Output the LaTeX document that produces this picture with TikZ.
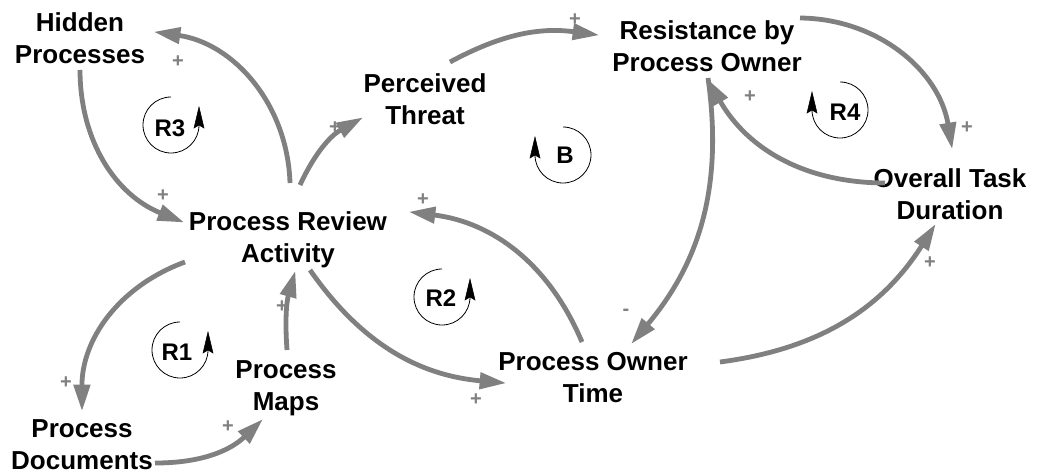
\documentclass[tikz,border=0pt]{standalone}
\usepackage{fontspec}
\setmainfont{Liberation Sans}
\usetikzlibrary{arrows.meta}
\definecolor{linkgray}{RGB}{128,128,128}
\tikzset{
  var/.style={font=\fontsize{19.5}{24}\selectfont\bfseries, align=center, inner sep=1pt},
  link/.style={draw=linkgray, line width=3.6pt, -{Triangle[length=20pt,width=12pt]}, shorten >=-1pt},
  pol/.style={text=linkgray, font=\fontsize{15}{15}\selectfont\bfseries, inner sep=0pt},
  loopc/.style={draw=black, line width=0.6pt},
  loophead/.style={fill=black, draw=black, line width=0.4pt, line join=miter},
  looplab/.style={font=\fontsize{18}{18}\selectfont\bfseries, inner sep=0pt}
}
\begin{document}
\begin{tikzpicture}[x=0.75pt,y=0.75pt]
\useasboundingbox (0,0) rectangle (1045,-475);
% variables
\node[var] (hp)  at (80,-38)  {Hidden\\Processes};
\node[var] (pt)  at (425,-99) {Perceived\\Threat};
\node[var] (rpo) at (707,-46) {Resistance by\\Process Owner};
\node[var] (otd) at (950,-194) {Overall Task\\Duration};
\node[var] (pra) at (288,-240) {Process Review\\Activity};
\node[var] (pot) at (593,-378) {Process Owner\\Time};
\node[var] (pm)  at (286,-388) {Process\\Maps};
\node[var] (pd)  at (82,-445) {Process\\Documents};
% links
\draw[link] ([shift={(2,57)}]pra.center) to[bend right=40] ([shift={(75,6)}]hp.center);
\draw[link] ([shift={(0,-32)}]hp.center) to[bend right=34] ([shift={(-105,18)}]pra.center);
\draw[link] ([shift={(12,55)}]pra.center) to[bend left=18] ([shift={(-63,-19)}]pt.center);
\draw[link] ([shift={(25,37)}]pt.center) to[bend left=18] ([shift={(-109,11)}]rpo.center);
\draw[link] ([shift={(93,28)}]rpo.center) to[bend left=40] ([shift={(2,46)}]otd.center);
\draw[link] ([shift={(-65,11)}]otd.center) to[bend left=30] ([shift={(1,-34)}]rpo.center);
\draw[link] ([shift={(1,-32)}]rpo.center) to[bend left=24] ([shift={(39,35)}]pot.center);
\draw[link] ([shift={(127,16)}]pot.center) to[bend right=25] ([shift={(-15,-31)}]otd.center);
\draw[link] ([shift={(-11,36)}]pot.center) to[bend right=30] ([shift={(122,28)}]pra.center);
\draw[link] ([shift={(22,-30)}]pra.center) to[bend right=25] ([shift={(-88,-5)}]pot.center);
\draw[link] ([shift={(-103,-22)}]pra.center) to[bend right=35] ([shift={(0,35)}]pd.center);
\draw[link] ([shift={(73,-18)}]pd.center) to[bend right=22] ([shift={(-24,-32)}]pm.center);
\draw[link] ([shift={(1,38)}]pm.center) to[bend left=10] ([shift={(7,-32)}]pra.center);
% polarities
\node[pol] (p1) at (178,-62) {+};
\node[pol] (p2) at (163,-196) {+};
\node[pol] (p3) at (335,-128) {+};
\node[pol] (p4) at (575,-20) {+};
\node[pol] (p5) at (967,-128) {+};
\node[pol] (p6) at (750,-97) {+};
\node[pol] (p7) at (626,-312) {-};
\node[pol] (p8) at (930,-263) {+};
\node[pol] (p9) at (423,-200) {+};
\node[pol] (p10) at (476,-400) {+};
\node[pol] (p11) at (66,-383) {+};
\node[pol] (p12) at (228,-427) {+};
\node[pol] (p13) at (282,-307) {+};
% loop markers
% R3 (counterclockwise)
\coordinate (c3) at (171,-125);
\draw[loopc] ([shift={(90:28)}]c3) arc[start angle=90,end angle=360,radius=28];
\fill[loophead] ([shift={(28,18)}]c3) -- ([shift={(33,-3)}]c3) -- ([shift={(28,0)}]c3) -- ([shift={(23,-3)}]c3) -- cycle;
\node[looplab] (l3) at (170,-128) {R3};
% B (clockwise)
\coordinate (cb) at (563,-155);
\draw[loopc] ([shift={(90:28)}]cb) arc[start angle=90,end angle=-180,radius=28];
\fill[loophead] ([shift={(-28,18)}]cb) -- ([shift={(-23,-3)}]cb) -- ([shift={(-28,0)}]cb) -- ([shift={(-33,-3)}]cb) -- cycle;
\node[looplab] (lb) at (565,-155) {B};
% R4 (clockwise)
\coordinate (c4) at (840,-110);
\draw[loopc] ([shift={(90:28)}]c4) arc[start angle=90,end angle=-180,radius=28];
\fill[loophead] ([shift={(-28,18)}]c4) -- ([shift={(-23,-3)}]c4) -- ([shift={(-28,0)}]c4) -- ([shift={(-33,-3)}]c4) -- cycle;
\node[looplab] (l4) at (845,-112) {R4};
% R1 (counterclockwise)
\coordinate (c1) at (180,-350);
\draw[loopc] ([shift={(90:28)}]c1) arc[start angle=90,end angle=360,radius=28];
\fill[loophead] ([shift={(28,18)}]c1) -- ([shift={(33,-3)}]c1) -- ([shift={(28,0)}]c1) -- ([shift={(23,-3)}]c1) -- cycle;
\node[looplab] (l1) at (177,-352) {R1};
% R2 (counterclockwise)
\coordinate (c2) at (442,-297);
\draw[loopc] ([shift={(90:28)}]c2) arc[start angle=90,end angle=360,radius=28];
\fill[loophead] ([shift={(28,18)}]c2) -- ([shift={(33,-3)}]c2) -- ([shift={(28,0)}]c2) -- ([shift={(23,-3)}]c2) -- cycle;
\node[looplab] (l2) at (441,-298) {R2};
\end{tikzpicture}
\end{document}
